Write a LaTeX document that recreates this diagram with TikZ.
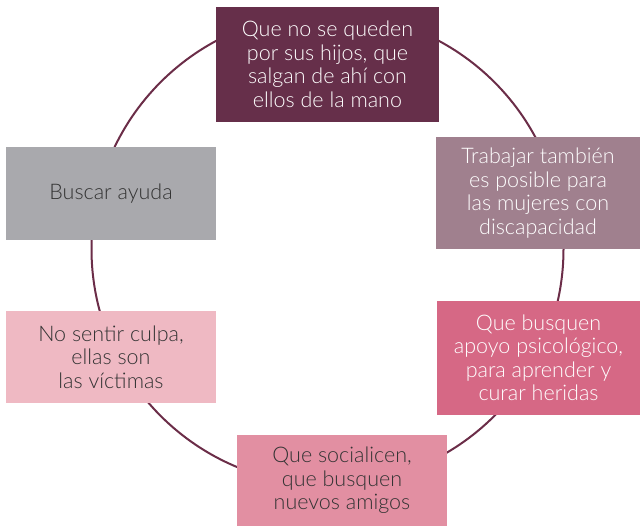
\documentclass[tikz,border=0pt]{standalone}
\usepackage{fontspec}
\setmainfont{Lato Light}
\definecolor{cTop}{HTML}{662F4A}
\definecolor{cRTop}{HTML}{A0808E}
\definecolor{cRBot}{HTML}{D66885}
\definecolor{cBot}{HTML}{E28FA2}
\definecolor{cLBot}{HTML}{EFB9C3}
\definecolor{cLTop}{HTML}{A9A9AD}
\definecolor{cLine}{HTML}{6B2D48}
\definecolor{cDark}{HTML}{333333}
\begin{document}
\begin{tikzpicture}[x=1pt,y=-1pt,
  box/.style={rectangle, inner sep=0pt, align=center, font=\fontsize{21.5}{23.5}\selectfont},
  ring/.style={draw=cLine, line width=2pt}]
\path[use as bounding box] (0,0) rectangle (640,526);
\draw[ring] (327.5,249) circle[radius=236];
\node[box, fill=cTop, text=white, minimum width=223pt, minimum height=115pt] (top) at (327.5,64.5)
  {Que no se queden\\por sus hijos, que\\salgan de ahí con\\ellos de la mano};
\node[box, fill=cRTop, text=white, minimum width=204pt, minimum height=112pt] (rtop) at (538,193)
  {Trabajar también\\es posible para\\las mujeres con\\discapacidad};
\node[box, fill=cRBot, text=white, minimum width=203pt, minimum height=114pt] (rbot) at (538.5,358)
  {Que busquen\\apoyo psicológico,\\para aprender y\\curar heridas};
\node[box, fill=cBot, text=cDark, minimum width=210pt, minimum height=91pt] (bot) at (342,480.5)
  {Que socialicen,\\que busquen\\nuevos amigos};
\node[box, fill=cLBot, text=cDark, minimum width=210pt, minimum height=92pt] (lbot) at (111,357)
  {No sentir culpa,\\ellas son\\las víctimas};
\node[box, fill=cLTop, text=cDark, minimum width=210pt, minimum height=93pt] (ltop) at (111,193.5)
  {Buscar ayuda};
\end{tikzpicture}
\end{document}
